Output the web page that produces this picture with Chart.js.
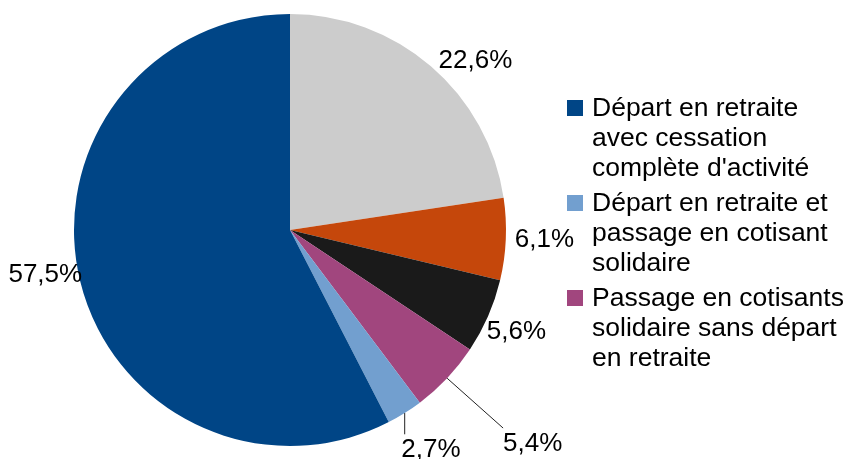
<!DOCTYPE html>
<html lang="fr">
<head>
    <meta charset="UTF-8">
    <title>Répartition</title>
    <script src="https://cdn.jsdelivr.net/npm/chart.js"></script>
    <style>
        html, body { margin: 0; padding: 0; background: #fff; }
        #wrap { width: 850px; height: 459px; }
    </style>
</head>
<body>
    <div id="wrap">
        <canvas id="pieChart" width="850" height="459"></canvas>
    </div>

    <script>
        // slices, clockwise from 12 o'clock
        const categories = [
            '',
            '',
            '',
            'Passage en cotisants solidaire sans départ en retraite',
            'Départ en retraite et passage en cotisant solidaire',
            "Départ en retraite avec cessation complète d'activité"
        ];
        const values = [22.6, 6.1, 5.6, 5.4, 2.7, 57.5];
        const colors = ['#cccccc', '#c5470b', '#1a1a1a', '#a1467e', '#729fcf', '#004586'];
        // legend order (index into categories)
        const legendOrder = [5, 4, 3];

        const LABEL_FONT = '26px "Liberation Sans", Arial, sans-serif';
        const LEGEND_FONT = '26.5px "Liberation Sans", Arial, sans-serif';

        function pctText(v) {
            return v.toFixed(1).replace('.', ',') + '%';
        }

        function clamp(v) {
            return Math.max(-1, Math.min(1, v));
        }

        function wrapWords(ctx, text, maxW) {
            const words = text.split(' ');
            const lines = [];
            let cur = '';
            words.forEach(w => {
                const test = cur ? cur + ' ' + w : w;
                if (ctx.measureText(test).width > maxW && cur) {
                    lines.push(cur);
                    cur = w;
                } else {
                    cur = test;
                }
            });
            if (cur) lines.push(cur);
            return lines;
        }

        const sliceLabels = {
            id: 'sliceLabels',
            afterDraw(chart, args, opts) {
                const ctx = chart.ctx;
                const meta = chart.getDatasetMeta(0);
                ctx.save();
                ctx.font = LABEL_FONT;
                ctx.fillStyle = '#000';
                ctx.textAlign = 'center';
                ctx.textBaseline = 'middle';

                meta.data.forEach((arc, i) => {
                    const p = arc.getProps(['x', 'y', 'startAngle', 'endAngle', 'outerRadius'], true);
                    const a = (p.startAngle + p.endAngle) / 2;
                    const c = Math.cos(a), s = Math.sin(a);
                    const pull = opts.pull[i] || 0;
                    const nudge = opts.nudge[i] || [0, 0];
                    const r = p.outerRadius + opts.gap + pull;
                    const px = p.x + r * c, py = p.y + r * s;
                    const txt = pctText(values[i]);
                    const w = ctx.measureText(txt).width;
                    const h = 26;
                    const hx = clamp(3 * c);
                    const hy = pull ? clamp(3 * s) : clamp(3 * s) * 0.4;
                    const cx = px + hx * w / 2 + nudge[0];
                    const cy = py + hy * h / 2 + nudge[1];

                    if (pull) {
                        // leader line from slice edge to nearest point of label box
                        const ex = p.x + p.outerRadius * c, ey = p.y + p.outerRadius * s;
                        const nx = Math.max(cx - w / 2, Math.min(ex, cx + w / 2));
                        const ny = Math.max(cy - h / 2, Math.min(ey, cy + h / 2));
                        ctx.strokeStyle = '#222';
                        ctx.lineWidth = 1;
                        ctx.beginPath();
                        ctx.moveTo(ex, ey);
                        ctx.lineTo(nx, ny - 3);
                        ctx.stroke();
                    }
                    ctx.fillText(txt, cx, cy);
                });

                // legend
                const lx = 567, tx = 592, lineH = 30, itemGap = 5;
                ctx.font = LEGEND_FONT;
                ctx.textAlign = 'left';
                ctx.textBaseline = 'alphabetic';
                const blocks = legendOrder.map(i => wrapWords(ctx, categories[i], chart.width - tx));
                const nLines = blocks.reduce((n, b) => n + b.length, 0);
                const totalH = nLines * lineH + (blocks.length - 1) * itemGap;
                let top = chart.chartArea.top + chart.chartArea.height / 2 - totalH / 2;
                blocks.forEach((lines, k) => {
                    const idx = legendOrder[k];
                    const base = top + 26;
                    ctx.fillStyle = colors[idx];
                    ctx.fillRect(lx, base - 16, 16, 16);
                    ctx.fillStyle = '#000';
                    lines.forEach((ln, j) => {
                        ctx.fillText(ln, tx, base + j * lineH);
                    });
                    top += lines.length * lineH + itemGap;
                });
                ctx.restore();
            }
        };

        new Chart(document.getElementById('pieChart').getContext('2d'), {
            type: 'pie',
            data: {
                labels: categories,
                datasets: [{
                    data: values,
                    backgroundColor: colors,
                    borderWidth: 0
                }]
            },
            options: {
                responsive: false,
                animation: false,
                layout: {
                    padding: { top: 14, bottom: 13, left: 74, right: 344 }
                },
                plugins: {
                    legend: { display: false },
                    tooltip: { enabled: false },
                    sliceLabels: {
                        gap: 4,
                        pull: { 3: 73, 4: 14 },
                        nudge: { 0: [5, 3], 1: [5, 0], 2: [-5, 9], 4: [-13, 9], 5: [6, -11] }
                    }
                }
            },
            plugins: [sliceLabels]
        });
    </script>
</body>
</html>
